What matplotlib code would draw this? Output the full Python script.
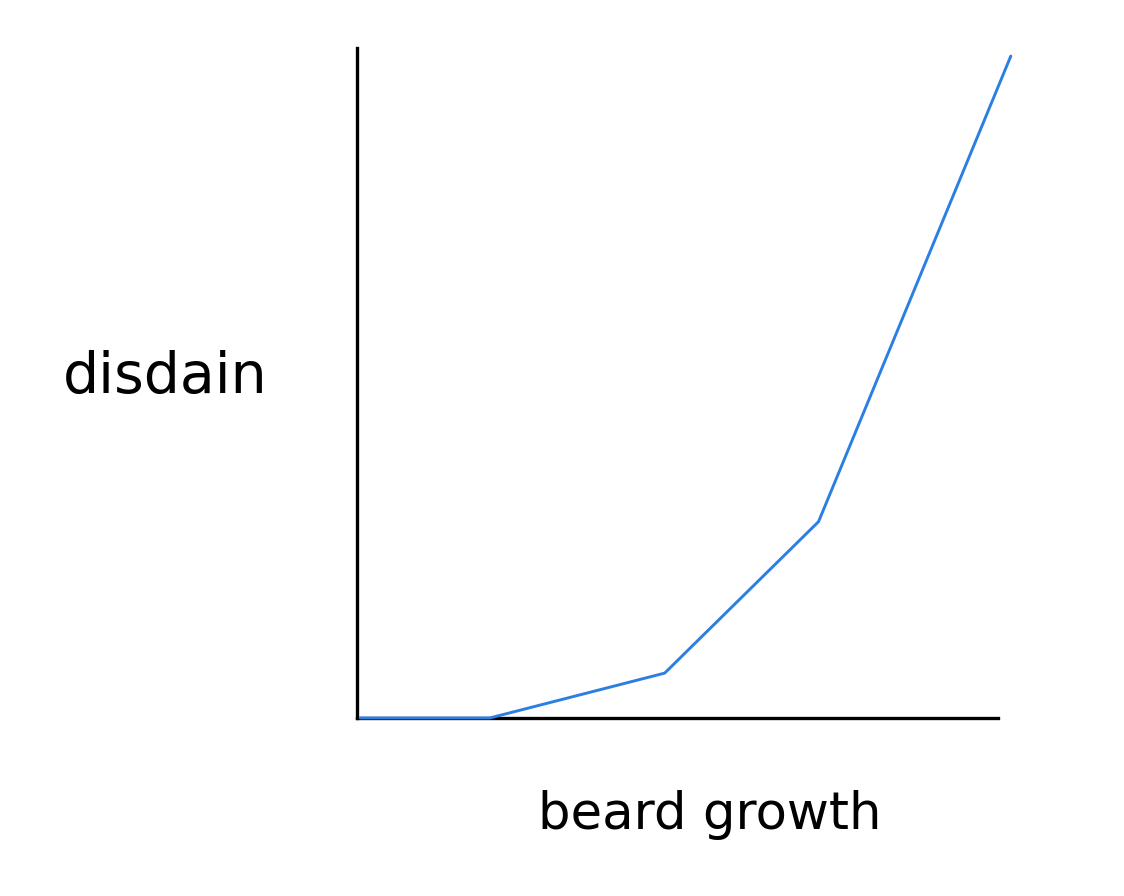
import matplotlib.pyplot as plt

# beard growth vs disdain (hand-drawn style sketch)
growth = [0.05, 2.07, 4.8, 7.2, 10.2]
disdain = [0.0, 0.0, 0.67, 2.93, 9.88]

W, H = 1124, 896
fig = plt.figure(figsize=(W / 100, H / 100), dpi=100)

# axes box in pixels: left 357, right 998, top 48, bottom 718
ax = fig.add_axes([357 / W, 1 - 718 / H, (998 - 357) / W, (718 - 48) / H])
ax.plot(growth, disdain, color="#2b7fe3", lw=2.1, clip_on=False,
        solid_capstyle="round", zorder=3)
ax.set_xlim(0, 10)
ax.set_ylim(0, 10)

for s in ["top", "right"]:
    ax.spines[s].set_visible(False)
for s in ["left", "bottom"]:
    ax.spines[s].set_linewidth(2.4)
    ax.spines[s].set_color("black")
ax.set_xticks([])
ax.set_yticks([])

fig.text(165 / W, 1 - 378 / H, "disdain", fontsize=41, ha="center",
         va="center", family="DejaVu Sans")
fig.text(710 / W, 1 - 815 / H, "beard growth", fontsize=37, ha="center",
         va="center", family="DejaVu Sans")

fig.savefig("out.png", dpi=100)
